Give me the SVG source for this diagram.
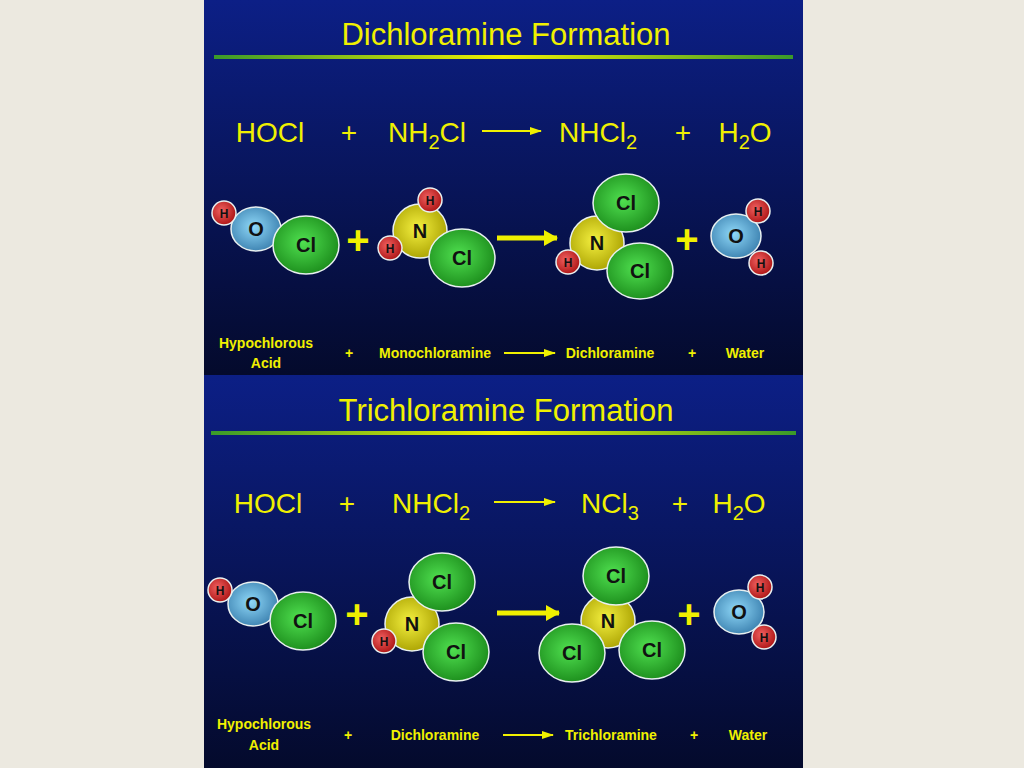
<svg xmlns="http://www.w3.org/2000/svg" width="1024" height="768" viewBox="0 0 1024 768">
<defs>
<linearGradient id="bg" x1="0" y1="0" x2="0" y2="1"><stop offset="0" stop-color="#0c1f86"/><stop offset="1" stop-color="#040a2c"/></linearGradient>
<linearGradient id="ln" x1="0" y1="0" x2="1" y2="0"><stop offset="0" stop-color="#3a9a2a"/><stop offset="0.5" stop-color="#f0f000"/><stop offset="1" stop-color="#3a9a2a"/></linearGradient>
<radialGradient id="gH" cx="0.4" cy="0.4" r="0.6"><stop offset="0" stop-color="#f06060"/><stop offset="1" stop-color="#b01818"/></radialGradient>
<radialGradient id="gO" cx="0.45" cy="0.45" r="0.6"><stop offset="0" stop-color="#8fd8f8"/><stop offset="1" stop-color="#3a7fae"/></radialGradient>
<radialGradient id="gCl" cx="0.45" cy="0.45" r="0.6"><stop offset="0" stop-color="#50e050"/><stop offset="1" stop-color="#1a8a1a"/></radialGradient>
<radialGradient id="gN" cx="0.45" cy="0.45" r="0.6"><stop offset="0" stop-color="#f4f040"/><stop offset="1" stop-color="#a8a000"/></radialGradient>
<marker id="ah" markerWidth="12" markerHeight="8" refX="11" refY="4" orient="auto" markerUnits="userSpaceOnUse"><path d="M0,0 L12,4 L0,8 Z" fill="#f0f000"/></marker>
<marker id="ahb" markerWidth="14" markerHeight="16" refX="13" refY="8" orient="auto" markerUnits="userSpaceOnUse"><path d="M0,0 L14,8 L0,16 Z" fill="#f0f000"/></marker>
</defs>
<style>
.t{font-family:"Liberation Sans",Arial,sans-serif;fill:#f0f000;text-anchor:middle}
.ti{font-size:31px}.eq{font-size:28px}.lb{font-size:14px;font-weight:bold}
.pl{font-size:40px;font-weight:bold}
.a{stroke:#e8f0f0;stroke-width:1.5}
.H{fill:url(#gH)}.O{fill:url(#gO)}.Cl{fill:url(#gCl)}.N{fill:url(#gN)}
.al{font-family:"Liberation Sans",Arial,sans-serif;font-weight:bold;fill:#111;text-anchor:middle}
.sa{font-size:12px}.ba{font-size:20px}
.ar{stroke:#f0f000;stroke-width:2;fill:none}
.arb{stroke:#f0f000;stroke-width:5;fill:none}
</style>
<rect width="1024" height="768" fill="#ece9e0"/>
<rect x="204" y="0" width="599" height="375" fill="url(#bg)"/>
<rect x="204" y="375" width="599" height="393" fill="url(#bg)"/>
<rect x="214" y="55" width="579" height="4" fill="url(#ln)"/>
<rect x="211" y="431" width="585" height="4" fill="url(#ln)"/>

<g id="titles">
<text class="t ti" x="506" y="45">Dichloramine Formation</text>
<text class="t ti" x="506" y="421">Trichloramine Formation</text>
</g>
<g id="eq1">
<text class="t eq" x="270" y="142">HOCl</text>
<text class="t eq" x="349" y="142">+</text>
<text class="t eq" x="427" y="142">NH<tspan font-size="20" dy="7">2</tspan><tspan dy="-7">Cl</tspan></text>
<text class="t eq" x="598" y="142">NHCl<tspan font-size="20" dy="7">2</tspan></text>
<text class="t eq" x="683" y="142">+</text>
<text class="t eq" x="745" y="142">H<tspan font-size="20" dy="7">2</tspan><tspan dy="-7">O</tspan></text>
</g>
<g id="eq2">
<text class="t eq" x="268" y="513">HOCl</text>
<text class="t eq" x="347" y="513">+</text>
<text class="t eq" x="431" y="513">NHCl<tspan font-size="20" dy="7">2</tspan></text>
<text class="t eq" x="610" y="513">NCl<tspan font-size="20" dy="7">3</tspan></text>
<text class="t eq" x="680" y="513">+</text>
<text class="t eq" x="739" y="513">H<tspan font-size="20" dy="7">2</tspan><tspan dy="-7">O</tspan></text>
</g>

<g id="connectors">
<line class="ar" x1="482" y1="131" x2="541" y2="131" marker-end="url(#ah)"/>
<line class="ar" x1="494" y1="502" x2="555" y2="502" marker-end="url(#ah)"/>
<line class="arb" x1="497" y1="238" x2="557" y2="238" marker-end="url(#ahb)"/>
<line class="arb" x1="497" y1="613" x2="559" y2="613" marker-end="url(#ahb)"/>
<line class="ar" x1="504" y1="353" x2="555" y2="353" marker-end="url(#ah)"/>
<line class="ar" x1="503" y1="735" x2="553" y2="735" marker-end="url(#ah)"/>
</g>

<g id="hocl1">
<ellipse class="a O" cx="256" cy="229" rx="25" ry="22"/><text class="al ba" x="256" y="236">O</text>
<circle class="a H" cx="224" cy="213" r="12"/><text class="al sa" x="224" y="218">H</text>
<ellipse class="a Cl" cx="306" cy="245" rx="33" ry="29"/><text class="al ba" x="306" y="252">Cl</text>
</g>
<text class="t pl" x="358" y="254">+</text>
<g id="nh2cl">
<circle class="a N" cx="420" cy="231" r="27"/><text class="al ba" x="420" y="238">N</text>
<circle class="a H" cx="430" cy="200" r="12"/><text class="al sa" x="430" y="205">H</text>
<circle class="a H" cx="390" cy="248" r="12"/><text class="al sa" x="390" y="253">H</text>
<ellipse class="a Cl" cx="462" cy="258" rx="33" ry="29"/><text class="al ba" x="462" y="265">Cl</text>
</g>
<g id="nhcl2">
<circle class="a N" cx="597" cy="243" r="27"/><text class="al ba" x="597" y="250">N</text>
<ellipse class="a Cl" cx="626" cy="203" rx="33" ry="29"/><text class="al ba" x="626" y="210">Cl</text>
<circle class="a H" cx="568" cy="262" r="12"/><text class="al sa" x="568" y="267">H</text>
<ellipse class="a Cl" cx="640" cy="271" rx="33" ry="28"/><text class="al ba" x="640" y="278">Cl</text>
</g>
<text class="t pl" x="687" y="253">+</text>
<g id="h2o1">
<ellipse class="a O" cx="736" cy="236" rx="25" ry="22"/><text class="al ba" x="736" y="243">O</text>
<circle class="a H" cx="758" cy="211" r="12"/><text class="al sa" x="758" y="216">H</text>
<circle class="a H" cx="761" cy="263" r="12"/><text class="al sa" x="761" y="268">H</text>
</g>

<g id="hocl2">
<ellipse class="a O" cx="253" cy="604" rx="25" ry="22"/><text class="al ba" x="253" y="611">O</text>
<circle class="a H" cx="220" cy="590" r="12"/><text class="al sa" x="220" y="595">H</text>
<ellipse class="a Cl" cx="303" cy="621" rx="33" ry="29"/><text class="al ba" x="303" y="628">Cl</text>
</g>
<text class="t pl" x="357" y="628">+</text>
<g id="nhcl2b">
<circle class="a N" cx="412" cy="624" r="27"/><text class="al ba" x="412" y="631">N</text>
<ellipse class="a Cl" cx="442" cy="582" rx="33" ry="29"/><text class="al ba" x="442" y="589">Cl</text>
<circle class="a H" cx="384" cy="641" r="12"/><text class="al sa" x="384" y="646">H</text>
<ellipse class="a Cl" cx="456" cy="652" rx="33" ry="29"/><text class="al ba" x="456" y="659">Cl</text>
</g>
<g id="ncl3">
<circle class="a N" cx="608" cy="621" r="27"/><text class="al ba" x="608" y="628">N</text>
<ellipse class="a Cl" cx="616" cy="576" rx="33" ry="29"/><text class="al ba" x="616" y="583">Cl</text>
<ellipse class="a Cl" cx="572" cy="653" rx="33" ry="29"/><text class="al ba" x="572" y="660">Cl</text>
<ellipse class="a Cl" cx="652" cy="650" rx="33" ry="29"/><text class="al ba" x="652" y="657">Cl</text>
</g>
<text class="t pl" x="689" y="628">+</text>
<g id="h2o2">
<ellipse class="a O" cx="739" cy="612" rx="25" ry="22"/><text class="al ba" x="739" y="619">O</text>
<circle class="a H" cx="760" cy="587" r="12"/><text class="al sa" x="760" y="592">H</text>
<circle class="a H" cx="764" cy="637" r="12"/><text class="al sa" x="764" y="642">H</text>
</g>

<g id="labels1">
<text class="t lb" x="266" y="348">Hypochlorous</text>
<text class="t lb" x="266" y="368">Acid</text>
<text class="t lb" x="349" y="358">+</text>
<text class="t lb" x="435" y="358">Monochloramine</text>
<text class="t lb" x="610" y="358">Dichloramine</text>
<text class="t lb" x="692" y="358">+</text>
<text class="t lb" x="745" y="358">Water</text>
</g>
<g id="labels2">
<text class="t lb" x="264" y="729">Hypochlorous</text>
<text class="t lb" x="264" y="750">Acid</text>
<text class="t lb" x="348" y="740">+</text>
<text class="t lb" x="435" y="740">Dichloramine</text>
<text class="t lb" x="611" y="740">Trichloramine</text>
<text class="t lb" x="694" y="740">+</text>
<text class="t lb" x="748" y="740">Water</text>
</g>
</svg>
